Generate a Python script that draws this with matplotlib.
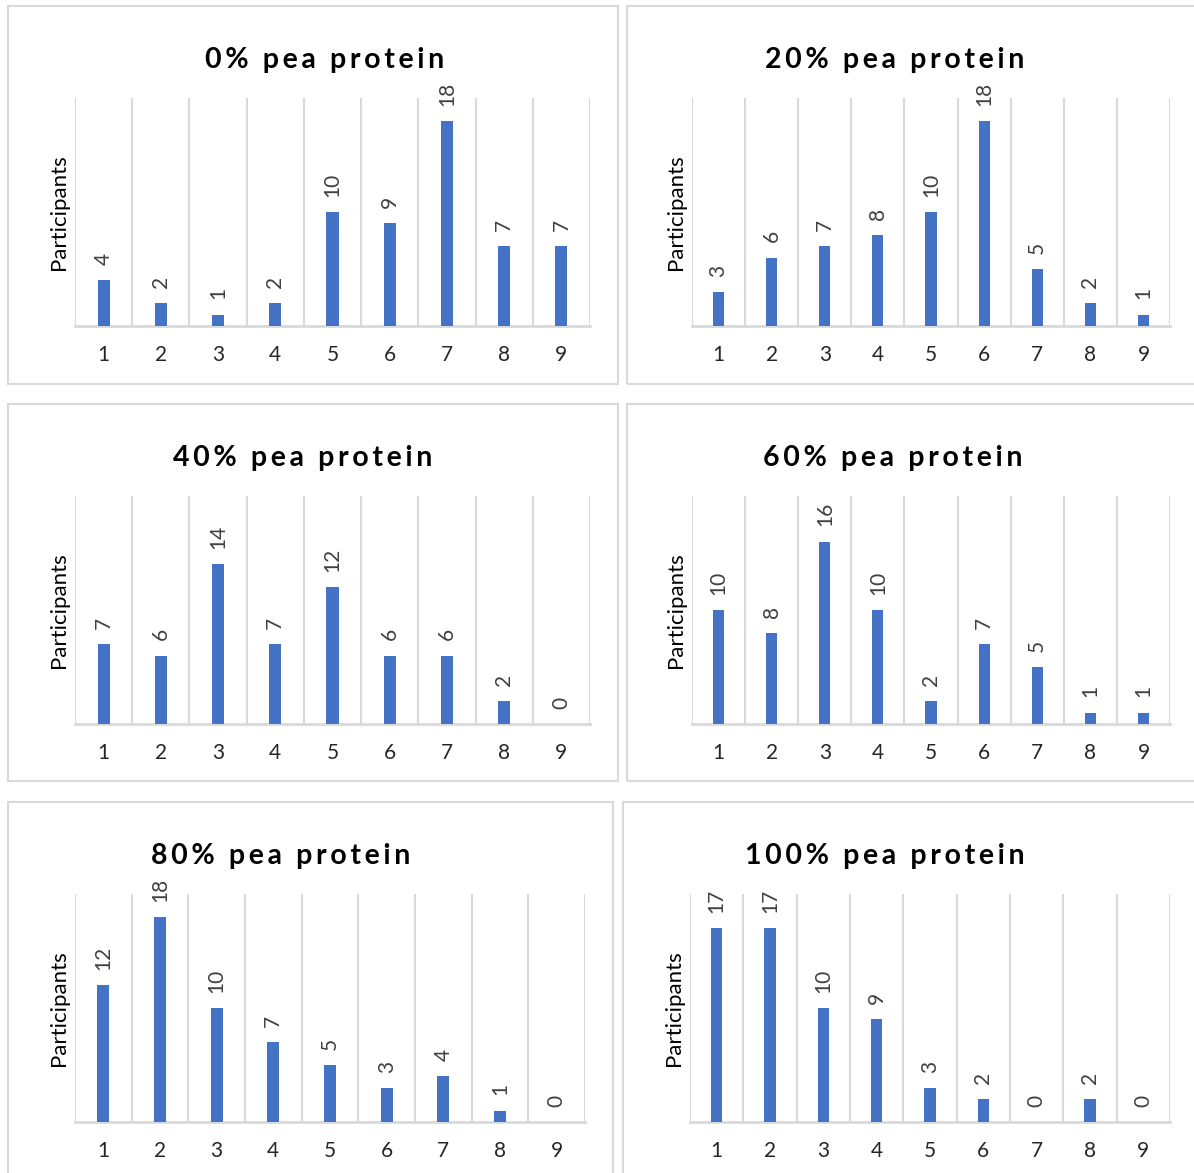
import matplotlib.pyplot as plt
from matplotlib.patches import Rectangle

W, H = 1194, 1173
dpi = 100

categories = [1, 2, 3, 4, 5, 6, 7, 8, 9]
titles = ["0% pea protein", "20% pea protein", "40% pea protein",
          "60% pea protein", "80% pea protein", "100% pea protein"]
p0 = [4, 2, 1, 2, 10, 9, 18, 7, 7]
p20 = [3, 6, 7, 8, 10, 18, 5, 2, 1]
p40 = [7, 6, 14, 7, 12, 6, 6, 2, 0]
p60 = [10, 8, 16, 10, 2, 7, 5, 1, 1]
p80 = [12, 18, 10, 7, 5, 3, 4, 1, 0]
p100 = [17, 17, 10, 9, 3, 2, 0, 2, 0]
series = [p0, p20, p40, p60, p80, p100]

# layout in pixels (top-left origin)
boxes = [(8, 6, 618, 384), (627, 6, 1200, 384),
         (8, 404, 618, 781), (627, 404, 1200, 781),
         (8, 802, 613, 1180), (623, 802, 1200, 1180)]
plots = [(75, 590, 326, 98), (692, 1170, 326, 98),
         (75, 590, 724, 496), (692, 1170, 724, 496),
         (75, 585, 1122, 894), (690, 1170, 1122, 894)]
title_pos = [(325, 60), (895, 60), (303, 458), (893, 458), (281, 856), (885, 856)]

blue = "#4472C4"
grid = "#D9D9D9"
txt = "#404040"
fam = ["Lato", "DejaVu Sans"]

fig = plt.figure(figsize=(W / dpi, H / dpi), dpi=dpi)

for (bx0, by0, bx1, by1) in boxes:
    fig.patches.append(Rectangle((bx0 / W, 1 - by1 / H), (bx1 - bx0) / W, (by1 - by0) / H,
                                 transform=fig.transFigure, fill=False,
                                 edgecolor=grid, linewidth=1.5))

for i, vals in enumerate(series):
    x0, x1, yb, yt = plots[i]
    ax = fig.add_axes([x0 / W, 1 - yb / H, (x1 - x0) / W, (yb - yt) / H])
    ax.bar(categories, vals, width=0.21, color=blue, zorder=3)
    ax.set_xlim(0.5, 9.5)
    ax.set_ylim(0, 20)
    for b in [c + 0.5 for c in [0] + categories]:
        ax.axvline(b, color=grid, linewidth=1.5, zorder=1)
    for s in ["top", "right", "left"]:
        ax.spines[s].set_visible(False)
    ax.spines["bottom"].set_color(grid)
    ax.spines["bottom"].set_linewidth(2)
    ax.set_yticks([])
    ax.set_xticks(categories)
    ax.set_xticklabels([str(c) for c in categories], fontsize=15, color="#262626", family=fam)
    ax.tick_params(axis="x", length=0, pad=14)
    ax.set_ylabel("Participants", fontsize=16, color="black", family=fam, labelpad=4)
    for c, v in zip(categories, vals):
        ax.annotate(str(v), (c, v), xytext=(0, 11), textcoords="offset points",
                    rotation=90, ha="center", va="bottom", fontsize=15,
                    color=txt, family=fam)
    tx, ty = title_pos[i]
    fig.text(tx / W, 1 - ty / H, "\u2009".join(titles[i]), ha="center", va="center",
             fontsize=20.5, fontweight="bold", color="black", family=fam)

fig.savefig("out.png", dpi=dpi)
